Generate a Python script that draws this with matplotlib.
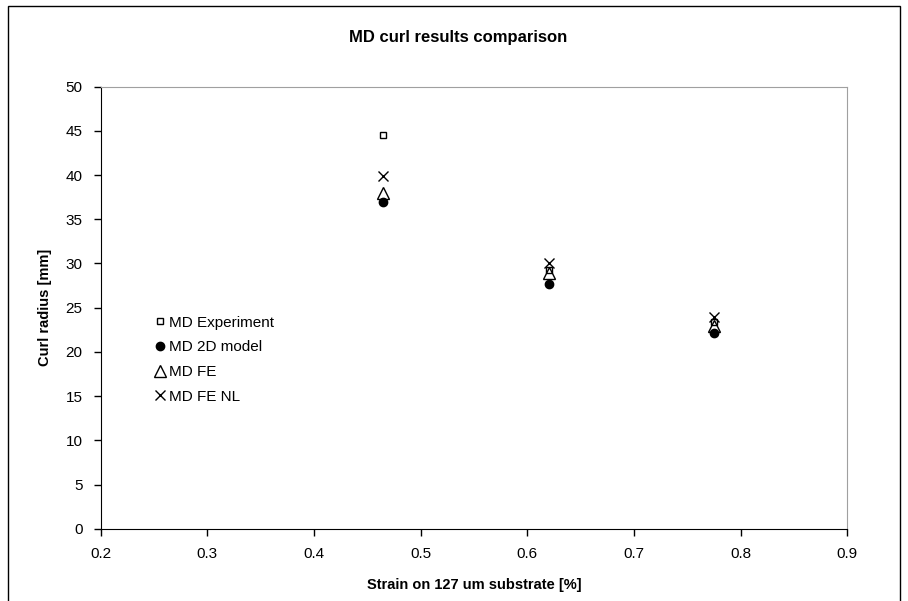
import matplotlib
matplotlib.use("Agg")
import matplotlib.pyplot as plt
from matplotlib.patches import Rectangle

plt.rcParams['font.family'] = ['Liberation Sans', 'DejaVu Sans']

# === Data ===
strain = [0.465, 0.62, 0.775]
md_experiment = [44.5, 29.3, 23.4]
md_2d_model = [37.0, 27.7, 22.1]
md_fe = [38.0, 28.9, 22.9]
md_fe_nl = [39.9, 30.0, 23.9]

x_ticks = [0.2, 0.3, 0.4, 0.5, 0.6, 0.7, 0.8, 0.9]
y_ticks = [0, 5, 10, 15, 20, 25, 30, 35, 40, 45, 50]

fig = plt.figure(figsize=(9.08, 6.01), dpi=100)
ax = fig.add_axes([0.111, 0.120, 0.822, 0.736])

# outer chart border
fig.patches.append(Rectangle((0.009, -0.1), 0.982, 1.09, transform=fig.transFigure,
                             fill=False, edgecolor='black', linewidth=1.0))

ax.plot(strain, md_experiment, linestyle='none', marker='s', markersize=5,
        markerfacecolor='white', markeredgecolor='black', markeredgewidth=1.0,
        label='MD Experiment')
ax.plot(strain, md_2d_model, linestyle='none', marker='o', markersize=6,
        markerfacecolor='black', markeredgecolor='black', label='MD 2D model')
ax.plot(strain, md_fe, linestyle='none', marker='^', markersize=9,
        markerfacecolor='none', markeredgecolor='black', markeredgewidth=1.0,
        label='MD FE')
ax.plot(strain, md_fe_nl, linestyle='none', marker='x', markersize=7,
        markeredgecolor='black', markeredgewidth=1.0, label='MD FE NL')

ax.set_xlim(0.2, 0.9)
ax.set_ylim(0, 50)
ax.set_xticks(x_ticks)
ax.set_yticks(y_ticks)
ax.set_xticklabels([f'{v:g}' for v in x_ticks])
ax.tick_params(direction='out', length=5, width=1, labelsize=11, pad=8)

for side in ['top', 'right']:
    ax.spines[side].set_color('#a0a0a0')
for side in ['left', 'bottom']:
    ax.spines[side].set_color('black')

fig.text(0.505, 0.938, 'MD curl results comparison', fontsize=12,
         fontweight='bold', ha='center', va='center')
ax.set_xlabel('Strain on 127 um substrate [%]', fontsize=10.5, fontweight='bold',
              labelpad=12)
ax.set_ylabel('Curl radius [mm]', fontsize=10.5, fontweight='bold', labelpad=10)

ax.legend(loc='upper left', bbox_to_anchor=(0.062, 0.496), frameon=False,
          fontsize=11, handletextpad=0.15, handlelength=0.9,
          labelspacing=0.7, borderaxespad=0)

fig.savefig('out.png', dpi=100)
